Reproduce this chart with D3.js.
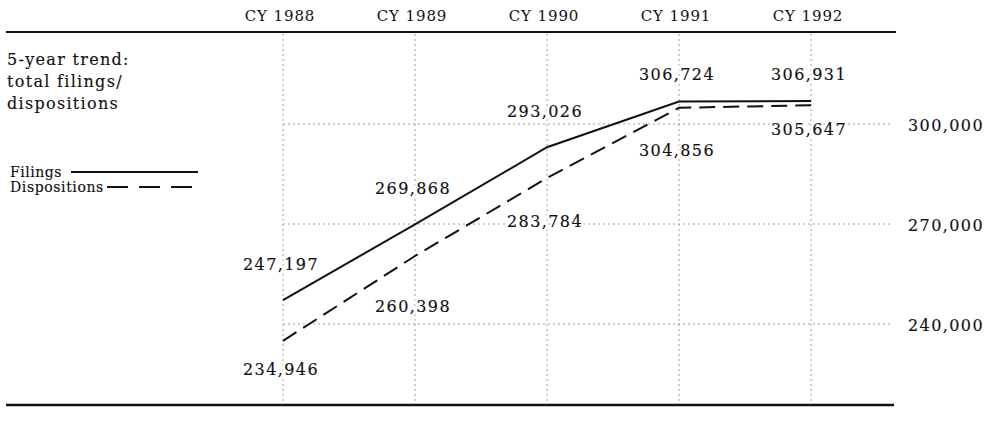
<!DOCTYPE html>
<html>
<head>
<meta charset="utf-8">
<script src="https://cdn.jsdelivr.net/npm/d3@7/dist/d3.min.js"></script>
<style>
  html, body { margin: 0; padding: 0; background: #fff; }
  svg { display: block; }
  text { font-family: "DejaVu Serif", serif; fill: #111; }
  text.ink { stroke: #111; stroke-width: 0.15px; }
</style>
</head>
<body>
<svg id="chart" width="986" height="422"></svg>
<script>
// ---- data ----
const years = ["CY 1988", "CY 1989", "CY 1990", "CY 1991", "CY 1992"];
const filings = [247197, 269868, 293026, 306724, 306931];
const dispositions = [234946, 260398, 283784, 304856, 305647];
const yTicks = [240000, 270000, 300000];
const titleLines = ["5-year trend:", "total filings/", "dispositions"];
const legendLabels = ["Filings", "Dispositions"];

// ---- layout ----
const topRule = 32, bottomRule = 405;
const svg = d3.select("#chart");

const x = d3.scalePoint().domain(years).range([283, 811]);
const y = d3.scaleLinear().domain([240000, 300000]).range([324, 124]);
const fmt = d3.format(",");

// rules
svg.append("line").attr("x1", 6).attr("x2", 896).attr("y1", topRule).attr("y2", topRule)
  .attr("stroke", "#111").attr("stroke-width", 2);
svg.append("line").attr("x1", 6).attr("x2", 894).attr("y1", bottomRule).attr("y2", bottomRule)
  .attr("stroke", "#111").attr("stroke-width", 2.5);

// vertical gridlines
svg.append("g").selectAll("line").data(years).join("line")
  .attr("x1", d => x(d)).attr("x2", d => x(d))
  .attr("y1", topRule + 2).attr("y2", bottomRule - 1)
  .attr("stroke", "#888").attr("stroke-width", 0.8).attr("stroke-dasharray", "2,3");

// horizontal gridlines
svg.append("g").selectAll("line").data(yTicks).join("line")
  .attr("x1", x(years[0])).attr("x2", 893)
  .attr("y1", d => y(d)).attr("y2", d => y(d))
  .attr("stroke", "#888").attr("stroke-width", 0.8).attr("stroke-dasharray", "2,3");

// header labels
svg.append("g").selectAll("text").data(years).join("text")
  .attr("x", d => x(d) - 3).attr("y", 21)
  .attr("text-anchor", "middle")
  .style("font-size", "15px").style("letter-spacing", "0.9px")
  .text(d => d);

// right axis labels
svg.append("g").selectAll("text").data(yTicks).join("text")
  .attr("class", "ink")
  .attr("x", 984).attr("y", d => y(d)).attr("dy", "0.45em")
  .attr("text-anchor", "end")
  .style("font-size", "16px").style("letter-spacing", "1.4px")
  .text(d => fmt(d));

// title
svg.append("g").selectAll("text").data(titleLines).join("text")
  .attr("class", "ink")
  .attr("x", 7).attr("y", (d, i) => 65 + i * 22)
  .style("font-size", "16px").style("letter-spacing", "1.3px")
  .text(d => d);

// legend
const lg = svg.append("g");
lg.append("text").attr("class", "ink").attr("x", 10).attr("y", 177)
  .style("font-size", "14px").style("letter-spacing", "0.5px").text(legendLabels[0]);
lg.append("line").attr("x1", 71).attr("x2", 198).attr("y1", 172).attr("y2", 172)
  .attr("stroke", "#111").attr("stroke-width", 2);
lg.append("text").attr("class", "ink").attr("x", 10).attr("y", 192)
  .style("font-size", "14px").style("letter-spacing", "0.6px").text(legendLabels[1]);
lg.append("line").attr("x1", 107).attr("x2", 198).attr("y1", 187).attr("y2", 187)
  .attr("stroke", "#111").attr("stroke-width", 2).attr("stroke-dasharray", "21,11");

// lines
const line = d3.line().x((d, i) => x(years[i])).y(d => y(d));
svg.append("path").datum(filings).attr("d", line)
  .attr("fill", "none").attr("stroke", "#111").attr("stroke-width", 2);
svg.append("path").datum(dispositions).attr("d", line)
  .attr("fill", "none").attr("stroke", "#111").attr("stroke-width", 2)
  .attr("stroke-dasharray", "16,8");

// value labels (white halo underneath, then inked text)
const filingsDy = [-30, -30, -30, -22, -21];
const dispDy = [34, 56, 49, 48, 30];
function labels(vals, dys) {
  const g = svg.append("g");
  ["halo", "ink"].forEach(cls => {
    g.append("g").selectAll("text").data(vals).join("text")
      .attr("class", cls)
      .attr("x", (d, i) => x(years[i]) - 2)
      .attr("y", (d, i) => y(d) + dys[i])
      .attr("text-anchor", "middle")
      .style("font-size", "16px").style("letter-spacing", "1.4px")
      .style("fill", cls === "halo" ? "#fff" : null)
      .style("stroke", cls === "halo" ? "#fff" : null)
      .style("stroke-width", cls === "halo" ? "5px" : null)
      .text(d => fmt(d));
  });
}
labels(filings, filingsDy);
labels(dispositions, dispDy);
</script>
</body>
</html>
